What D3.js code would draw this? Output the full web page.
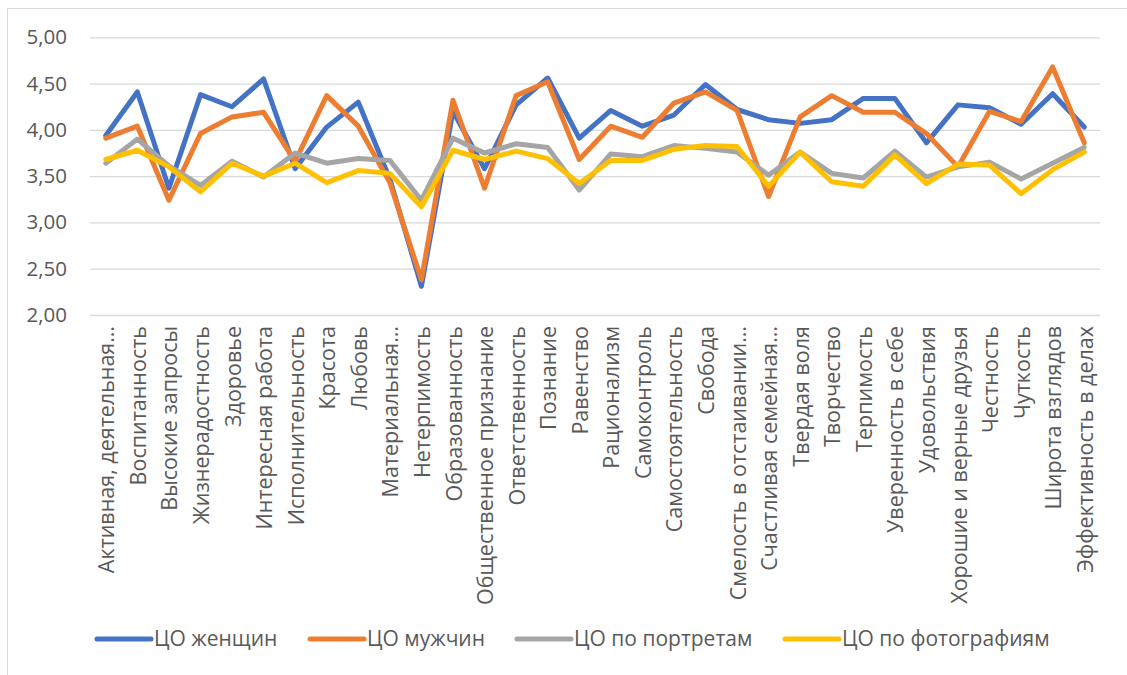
<!DOCTYPE html>
<html>
<head>
<meta charset="utf-8">
<script src="https://cdn.jsdelivr.net/npm/d3@7"></script>
<style>
  html, body { margin: 0; padding: 0; background: #fff; }
  svg { display: block; }
  svg text { font-family: "Open Sans", "DejaVu Sans", sans-serif; }
</style>
</head>
<body>
<svg id="chart" width="1127" height="675"></svg>
<script>
// Value categories (x axis)
const categories = [
  "Активная, деятельная…", "Воспитанность", "Высокие запросы", "Жизнерадостность",
  "Здоровье", "Интересная работа", "Исполнительность", "Красота", "Любовь",
  "Материальная…", "Нетерпимость", "Образованность", "Общественное признание",
  "Ответственность", "Познание", "Равенство", "Рационализм", "Самоконтроль",
  "Самостоятельность", "Свобода", "Смелость в отстаивании…", "Счастливая семейная…",
  "Твердая воля", "Творчество", "Терпимость", "Уверенность в себе", "Удовольствия",
  "Хорошие и верные друзья", "Честность", "Чуткость", "Широта взглядов",
  "Эффективность в делах"
];

// Mean scores per series
const women = [3.94, 4.41, 3.37, 4.38, 4.25, 4.55, 3.58, 4.03, 4.30, 3.47, 2.31, 4.20,
  3.58, 4.27, 4.56, 3.91, 4.21, 4.04, 4.16, 4.49, 4.22, 4.11, 4.07, 4.11, 4.34, 4.34,
  3.86, 4.27, 4.24, 4.06, 4.39, 4.03];
const men = [3.91, 4.04, 3.24, 3.96, 4.14, 4.19, 3.66, 4.37, 4.04, 3.43, 2.38, 4.32,
  3.37, 4.37, 4.52, 3.68, 4.04, 3.92, 4.29, 4.41, 4.21, 3.28, 4.14, 4.37, 4.19, 4.19,
  3.96, 3.60, 4.20, 4.09, 4.68, 3.86];
const portraits = [3.64, 3.90, 3.61, 3.40, 3.66, 3.49, 3.75, 3.64, 3.69, 3.67, 3.24, 3.91,
  3.75, 3.85, 3.81, 3.35, 3.74, 3.71, 3.83, 3.80, 3.76, 3.51, 3.76, 3.53, 3.48, 3.77,
  3.49, 3.60, 3.65, 3.47, 3.64, 3.81];
const photos = [3.68, 3.78, 3.60, 3.33, 3.64, 3.50, 3.64, 3.43, 3.56, 3.53, 3.17, 3.78,
  3.68, 3.77, 3.69, 3.42, 3.67, 3.67, 3.79, 3.83, 3.82, 3.39, 3.76, 3.44, 3.39, 3.73,
  3.42, 3.63, 3.62, 3.31, 3.57, 3.76];

const seriesNames = ["ЦО женщин", "ЦО мужчин", "ЦО по портретам", "ЦО по фотографиям"];
const seriesColors = ["#4472C4", "#ED7D31", "#A5A5A5", "#FFC000"];
const yTicks = [2.0, 2.5, 3.0, 3.5, 4.0, 4.5, 5.0];

const series = [women, men, portraits, photos].map((values, i) => ({
  name: seriesNames[i], color: seriesColors[i], values
}));

const FONT = '"Open Sans", "DejaVu Sans", sans-serif';
const svg = d3.select("#chart");
const W = 1127, H = 675;
const plot = { left: 90, right: 1100, top: 37.3, bottom: 315 };

// Chart frame
svg.append("rect")
  .attr("x", 7.5).attr("y", 8.5)
  .attr("width", W).attr("height", H)
  .attr("fill", "#fff").attr("stroke", "#d9d9d9").attr("stroke-width", 1);

const x = d3.scaleBand().domain(categories).range([plot.left, plot.right]);
const y = d3.scaleLinear().domain([2, 5]).range([plot.bottom, plot.top]);

// Horizontal gridlines and y labels
const yAxis = d3.axisLeft(y)
  .tickValues(yTicks)
  .tickSize(-(plot.right - plot.left))
  .tickPadding(23)
  .tickFormat(d => d3.format(".2f")(d).replace(".", ","));

const gy = svg.append("g")
  .attr("transform", `translate(${plot.left},0)`)
  .call(yAxis)
  .attr("font-family", FONT);
gy.select(".domain").remove();
gy.selectAll(".tick line").attr("stroke", "#d9d9d9").attr("stroke-width", 1.3);
gy.selectAll(".tick text")
  .attr("fill", "#595959")
  .style("font-size", "20.5px");

// Category labels, rotated
const xAxis = d3.axisBottom(x).tickSize(0).tickPadding(0);
const gx = svg.append("g")
  .attr("transform", `translate(0,${plot.bottom})`)
  .call(xAxis)
  .attr("font-family", FONT);
gx.select(".domain").remove();
gx.selectAll(".tick text")
  .attr("fill", "#595959")
  .style("font-size", "21.5px")
  .attr("text-anchor", "end")
  .attr("transform", "translate(1,11) rotate(-90)")
  .attr("x", 0).attr("y", 0).attr("dy", "0.35em");

// Series lines
const line = d3.line()
  .x((d, i) => x(categories[i]) + x.bandwidth() / 2)
  .y(d => y(d));

svg.append("g").selectAll("path")
  .data(series)
  .join("path")
  .attr("d", d => line(d.values))
  .attr("fill", "none")
  .attr("stroke", d => d.color)
  .attr("stroke-width", 5)
  .attr("stroke-linejoin", "round")
  .attr("stroke-linecap", "round");

// Legend
const legendX = [97, 310, 517, 785];
const legend = svg.append("g").selectAll("g")
  .data(series)
  .join("g")
  .attr("transform", (d, i) => `translate(${legendX[i]},639)`);
legend.append("line")
  .attr("x1", 0).attr("x2", 54)
  .attr("stroke", d => d.color)
  .attr("stroke-width", 5)
  .attr("stroke-linecap", "round");
legend.append("text")
  .attr("x", 57).attr("dy", "0.35em")
  .attr("fill", "#595959")
  .style("font-size", "21px")
  .text(d => d.name);
</script>
</body>
</html>
